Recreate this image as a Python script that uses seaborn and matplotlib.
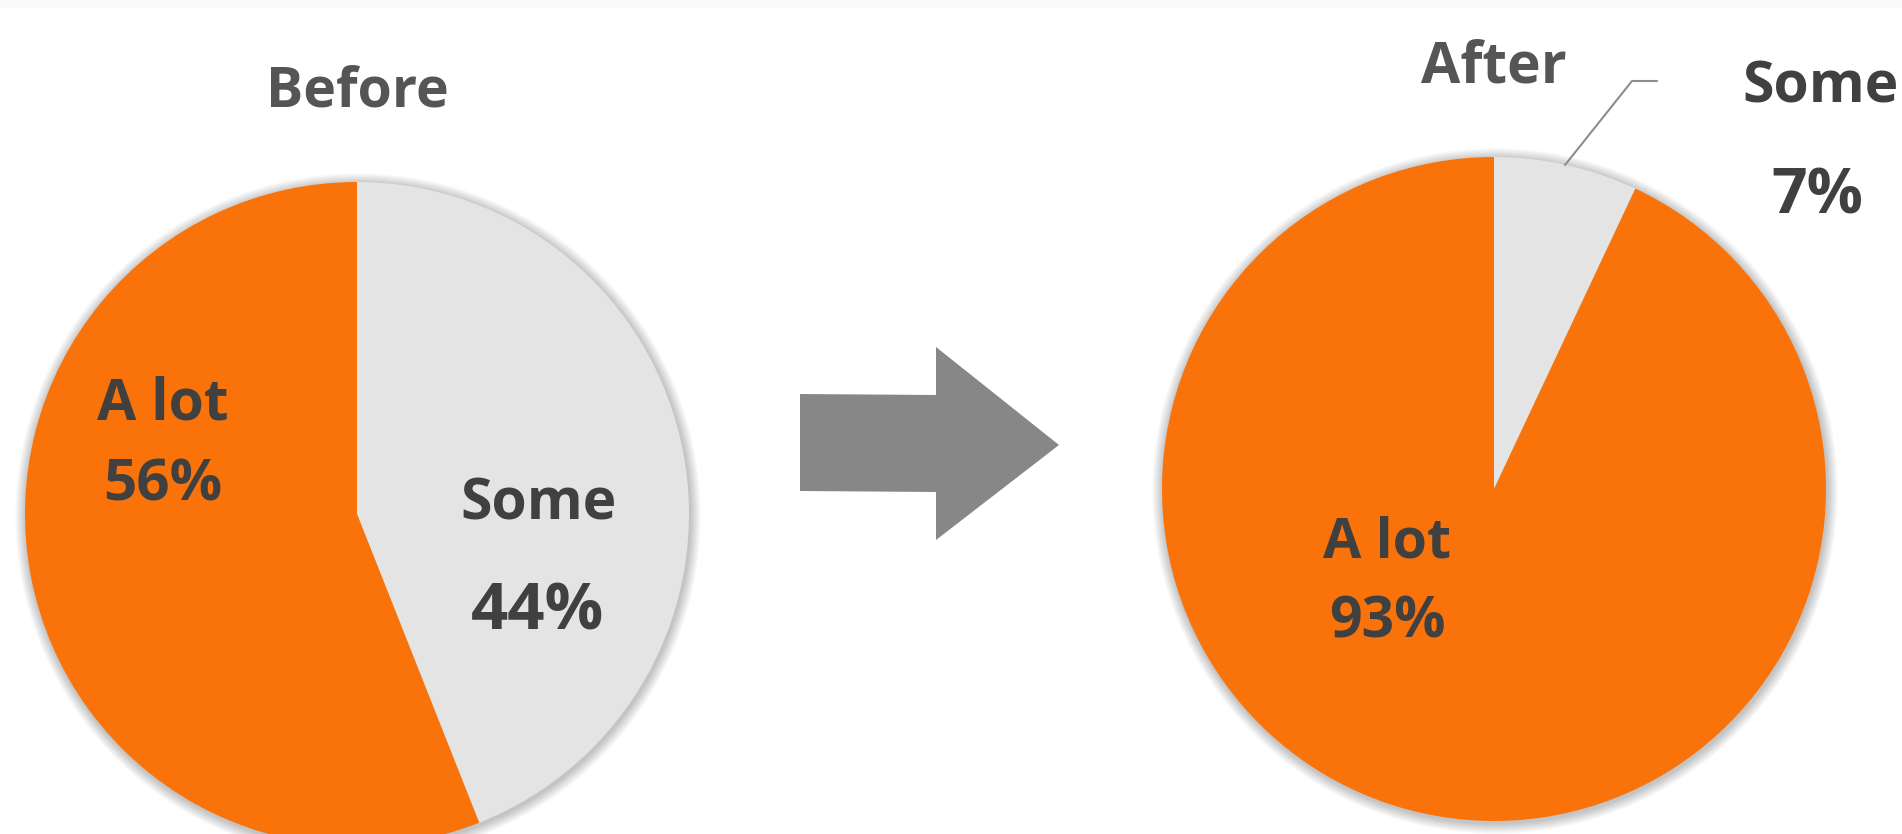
import matplotlib
matplotlib.use("Agg")
import matplotlib.pyplot as plt
import seaborn as sns
from matplotlib.patches import Polygon, Circle, Rectangle

# ---- data ----
categories = ["Some", "A lot"]
before_values = [44, 56]
after_values = [7, 93]
panel_titles = ["Before", "After"]
slice_colors = ["#E4E4E4", "#F9730A"]

sns.set_theme(style="white")
plt.rcParams['font.family'] = ['Open Sans', 'DejaVu Sans']

W, H = 1902, 834
fig = plt.figure(figsize=(W / 100, H / 100), dpi=100)
ax = fig.add_axes([0, 0, 1, 1])


def py(y):
    return H - y


TXT = "#404040"
TITLE = "#555555"

# top faint band
ax.add_patch(Rectangle((0, py(8)), W, 8, color="#FAFAFA", lw=0, zorder=0))


def draw_pie(values, cx, cy, r):
    # soft shadow
    for k in range(1, 13):
        ax.add_patch(Circle((cx + 1, py(cy) - 2), r + k * 0.9, color="black",
                            alpha=0.018, lw=0, zorder=1))
    ax.pie(values, colors=slice_colors, startangle=90, counterclock=False,
           center=(cx, py(cy)), radius=r, wedgeprops=dict(linewidth=0, zorder=2))


draw_pie(before_values, 357, 514, 332)
draw_pie(after_values, 1494, 489, 332)

bold = dict(fontweight="bold", ha="center", va="baseline")

# titles
ax.text(357, py(106), panel_titles[0], fontsize=40, color=TITLE, **bold)
ax.text(1494, py(82), panel_titles[1], fontsize=41, color=TITLE, **bold)

# Before labels
ax.text(163, py(419), categories[1], fontsize=41, color=TXT, **bold)
ax.text(163, py(500), f"{before_values[1]}%", fontsize=42, color=TXT, **bold)
ax.text(539, py(519), categories[0], fontsize=41, color=TXT, **bold)
ax.text(538, py(630), f"{before_values[0]}%", fontsize=47, color=TXT, **bold)

# After labels
ax.text(1387, py(558), categories[1], fontsize=40, color=TXT, **bold)
ax.text(1387, py(638), f"{after_values[1]}%", fontsize=41, color=TXT, **bold)
ax.text(1821, py(102), categories[0], fontsize=41, color=TXT, **bold)
ax.text(1817, py(213), f"{after_values[0]}%", fontsize=45, color=TXT, **bold)

# leader line
ax.plot([1565, 1632, 1657], [py(165), py(81), py(81)], color="#8C8C8C", lw=1.5, zorder=3)

# big arrow
arrow = Polygon([(800, py(394)), (936, py(395)), (936, py(347)), (1059, py(445)),
                 (936, py(540)), (936, py(492)), (800, py(491))],
                closed=True, color="#878787", lw=0, zorder=2)
ax.add_patch(arrow)

ax.set_xlim(0, W)
ax.set_ylim(0, H)
ax.set_aspect("equal")
ax.axis("off")
fig.savefig("out.png", dpi=100, facecolor="white")
